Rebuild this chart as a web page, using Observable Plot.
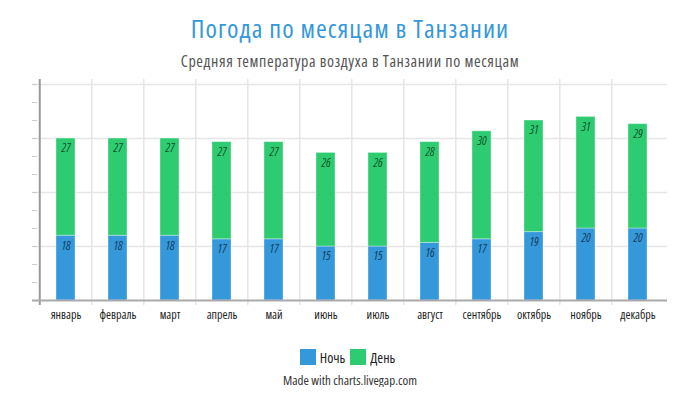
<!DOCTYPE html>
<html><head><meta charset="utf-8">
<script src="https://cdn.jsdelivr.net/npm/d3@7"></script>
<script src="https://cdn.jsdelivr.net/npm/@observablehq/plot@0.6"></script>
<style>
body{margin:0;background:#fff;font-family:"Open Sans",sans-serif;font-stretch:75%;}
#wrap{width:700px;}
.title{padding-top:6px;height:44px;line-height:44px;text-align:center;font-size:26px;letter-spacing:1px;color:#3498db;}
.subtitle{height:22px;line-height:22px;text-align:center;font-size:16px;letter-spacing:0.6px;color:#555;}
.legend{padding-top:16px;height:18px;display:flex;justify-content:center;align-items:center;font-size:14px;color:#222;}
.legend span.sw{display:inline-block;width:16px;height:16px;margin-right:4px;}
.legend span.lb{margin-right:5px;}
.caption{margin-top:7px;height:14px;line-height:14px;text-align:center;font-size:13px;color:#333;}
svg{display:block;font-stretch:75%;}
</style></head>
<body><div id="wrap">
<div class="title">Погода по месяцам в Танзании</div>
<div class="subtitle">Средняя температура воздуха в Танзании по месяцам</div>
<div id="chart"></div>
<div class="legend" id="legend"></div>
<div class="caption">Made with charts.livegap.com</div>
</div>
<script>
const months = ["январь","февраль","март","апрель","май","июнь","июль","август","сентябрь","октябрь","ноябрь","декабрь"];
const series = ["Ночь","День"];
const night = [18,18,18,17,17,15,15,16,17,19,20,20];
const day = [27,27,27,27,27,26,26,28,30,31,31,29];
const colors = ["#3498db","#2ecc71"];
const yGrid = [15,30,45,60];
const yMinor = [0,5,10,15,20,25,30,35,40,45,50,55,60];

const rows = months.flatMap((m,i)=>[
  {month:m, series:series[0], value:night[i]},
  {month:m, series:series[1], value:day[i]}
]);

const W = 700, mL = 37, mR = 33;
const step = (W - mL - mR) / months.length;

const chart = Plot.plot({
  width: W, height: 260,
  marginTop: 7, marginLeft: mL, marginRight: mR, marginBottom: 32,
  x: {domain: months, paddingInner: 0.63, paddingOuter: 0.315, label: null},
  y: {domain: [0, 61.4], label: null},
  color: {domain: series, range: colors},
  style: {fontFamily: '"Open Sans",sans-serif', fontSize: "12px", color: "#333", background: "#fff"},
  marks: [
    Plot.ruleY(yGrid, {stroke: "#e6e6e6", strokeWidth: 1.5, insetLeft: -5}),
    Plot.ruleX(months.slice(1), {x: d => d, dx: -step/2, stroke: "#e6e6e6", strokeWidth: 1.5, insetBottom: -5}),
    Plot.axisY({ticks: yMinor, tickSize: 5, tickFormat: () => "", stroke: "#ccc", label: null}),
    Plot.barY(rows, {x: "month", y: "value", fill: "series", stroke: "#fff", strokeOpacity: 0.35, strokeWidth: 1}),
    Plot.text(rows, Plot.stackY2({x: "month", y: "value", text: "value", dy: 10, fontStyle: "italic", fontSize: 12, fill: "#000", fillOpacity: 0.65})),
    Plot.ruleX([months[0]], {x: d => d, dx: -step/2, stroke: "#999", strokeWidth: 2, insetBottom: -5}),
    Plot.ruleY([0], {stroke: "#aaa", strokeWidth: 2, insetLeft: -5}),
    Plot.axisX({tickSize: 0, tickPadding: 10, fontSize: 12, label: null, fill: "#222"})
  ]
});
document.getElementById("chart").appendChild(chart);

const leg = document.getElementById("legend");
series.forEach((s,i)=>{
  const sw = document.createElement("span"); sw.className="sw"; sw.style.background = colors[i];
  const lb = document.createElement("span"); lb.className="lb"; lb.textContent = s;
  leg.appendChild(sw); leg.appendChild(lb);
});
</script>
</body></html>
